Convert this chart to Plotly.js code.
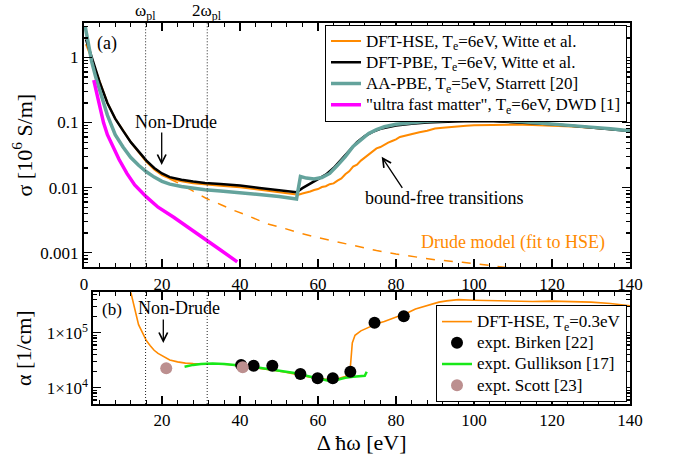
<!DOCTYPE html>
<html>
<head>
<meta charset="utf-8">
<script src="https://cdn.plot.ly/plotly-3.0.1.min.js"></script>
<style>html,body{margin:0;padding:0;background:#fff;}#chart{width:678px;height:457px;}</style>
</head>
<body>
<div id="chart"></div>
<script>
// ---------------- Panel (a): conductivity sigma [10^6 S/m] ----------------
const hse6X = [0.5,1,2,3,4,6,8,10,12,14,16,18,20,22,25,28,31,35,40,45,50,53,55,56,57,58,59,60,61,62,63,64,65,66,67,68,69,70,71,72,73,74,75,76,77,78,79,80,81,82,84,86,88,90,92,95,98,100,103,106,110,115,120,125,130,135,140];
const hse6Y = [1.6,1.35,0.95,0.63,0.42,0.2,0.115,0.074,0.05,0.035,0.025,0.019,0.0155,0.0138,0.0125,0.0117,0.0112,0.0107,0.0101,0.0093,0.0085,0.008,0.0078,0.0081,0.0083,0.0087,0.0092,0.0095,0.0102,0.0105,0.0113,0.0116,0.0128,0.0138,0.016,0.0178,0.021,0.0225,0.026,0.029,0.033,0.036,0.04,0.042,0.046,0.049,0.052,0.055,0.06,0.062,0.068,0.071,0.075,0.081,0.083,0.087,0.089,0.091,0.092,0.093,0.093,0.092,0.09,0.087,0.083,0.079,0.075];

const pbe6X = [0.5,1,2,3,4,6,8,10,12,14,16,18,20,22,25,28,31,35,40,45,50,53,54.5,56,58,60,62,64,66,68,70,72,74,76,78,80,84,88,95,100,105,110,115,120,125,130,135,140];
const pbe6Y = [1.9,1.5,1.0,0.65,0.42,0.2,0.115,0.075,0.05,0.036,0.026,0.02,0.0165,0.0145,0.0132,0.0124,0.0118,0.0114,0.0108,0.0099,0.0091,0.0087,0.0085,0.0098,0.0114,0.0133,0.0158,0.02,0.027,0.037,0.05,0.062,0.072,0.08,0.086,0.09,0.096,0.1,0.104,0.106,0.105,0.102,0.098,0.094,0.089,0.084,0.079,0.074];

const aaX = [0.3,1,2,3,4,6,8,10,12,14,16,18,20,22,25,28,31,35,40,45,50,54.5,55.5,57,59,61,63,65,67,69,71,73,75,77,80,84,88,95,100,105,110,115,120,125,130,135,140];
const aaY = [3.0,1.7,0.85,0.5,0.32,0.13,0.065,0.042,0.029,0.022,0.0175,0.0145,0.0125,0.0113,0.0104,0.0097,0.0093,0.0089,0.0084,0.0078,0.0073,0.0067,0.0148,0.014,0.0136,0.0143,0.0165,0.022,0.03,0.043,0.055,0.068,0.078,0.086,0.094,0.1,0.105,0.109,0.11,0.109,0.106,0.101,0.096,0.09,0.085,0.08,0.075];

const ufmX = [2.5,3,4,5,6,7.5,9,11,13,16,19,23,27,31,35,39.3];
const ufmY = [0.45,0.33,0.17,0.1,0.065,0.042,0.027,0.0165,0.011,0.0072,0.005,0.0035,0.0024,0.0016,0.0011,0.00072];

const drudeX = [22,25,28,31.4,35,38.3,42,46.8,51,55.4,60,64,70,75,80,85,90,97,103,108,112];
const drudeY = [0.0135,0.0112,0.0088,0.0068,0.0055,0.0045,0.0037,0.0028,0.0024,0.002,0.0017,0.0015,0.00125,0.00108,0.00095,0.00085,0.00078,0.00071,0.00064,0.0006,0.00056];

// ---------------- Panel (b): absorption alpha [1/cm] ----------------
const hse03X = [12,12.5,13,13.5,14,15,16,17,18,19,20,21,22,24,26,28,31,34,37,40,43,46,49,52,55,58,61,63,65,67,68.2,68.8,69.5,71,73,75,77,79,81,83,85,87,89,91,93,96,100,105,110,115,120,125,130,135,140];
const hse03Y = [5.5e5,4e5,2.6e5,1.9e5,1.4e5,1e5,7.2e4,5.8e4,4.8e4,4.2e4,3.8e4,3.5e4,3.2e4,2.95e4,2.8e4,2.75e4,2.75e4,2.7e4,2.65e4,2.5e4,2.3e4,2.2e4,2.05e4,1.9e4,1.72e4,1.55e4,1.45e4,1.4e4,1.45e4,1.6e4,1.9e4,6.5e4,9e4,1.08e5,1.25e5,1.45e5,1.6e5,1.8e5,2.0e5,2.3e5,2.7e5,3.0e5,3.3e5,3.6e5,3.8e5,4.0e5,3.9e5,3.8e5,3.75e5,3.7e5,3.75e5,3.7e5,3.6e5,3.4e5,3.1e5];

const birkenX = [40.3,43.5,48.3,55.5,59.9,63.8,68.3,74.5,82];
const birkenY = [2.6e4,2.5e4,2.5e4,1.78e4,1.48e4,1.48e4,1.96e4,1.52e5,2.0e5];

const gullX = [25.8,28,30,33,36,39,42,45,48,51,54,57,60,62,63.5,65,67,69,71,72,72.5];
const gullY = [2.4e4,2.6e4,2.7e4,2.75e4,2.7e4,2.6e4,2.45e4,2.3e4,2.15e4,2e4,1.85e4,1.65e4,1.5e4,1.4e4,1.3e4,1.4e4,1.52e4,1.58e4,1.62e4,1.65e4,1.95e4];

const scottX = [21.1,40.7];
const scottY = [2.25e4,2.35e4];

// Series names, tick labels and reference lines
const namesA = ['DFT-HSE, T<sub>e</sub>=6eV, Witte et al.', 'DFT-PBE, T<sub>e</sub>=6eV, Witte et al.', 'AA-PBE, T<sub>e</sub>=5eV, Starrett [20]', '"ultra fast matter", T<sub>e</sub>=6eV, DWD [1]'];
const namesB = ['DFT-HSE, T<sub>e</sub>=0.3eV', 'expt. Birken [22]', 'expt. Gullikson [17]', 'expt. Scott [23]'];
const xTicks = [0,20,40,60,80,100,120,140];
const sigmaTickVals = [0.001,0.01,0.1,1];
const sigmaTickText = ['0.001','0.01','0.1','1'];
const alphaTickVals = [1e4,1e5];
const alphaTickText = ['1×10<sup>4</sup>','1×10<sup>5</sup>'];
const plasmaLines = [15.8,31.6];
const plasmaLabels = ['ω<sub>pl</sub>','2ω<sub>pl</sub>'];

// ---------------- layout helpers ----------------
const FONT = 'Liberation Serif';
const W = 678, H = 457, ML = 84, MR = 48, MT = 23, MB = 53;
const PW = W - ML - MR, PH = H - MT - MB;
const px = x => (x - ML) / PW;
const py = y => (H - MB - y) / PH;
const big = s => '<span style="font-size:17px">' + s + '</span>';

function minorLog(lo, hi) {
  const v = [];
  for (let e = lo; e <= hi; e++) for (let m = 2; m <= 9; m++) v.push(m * Math.pow(10, e));
  return v;
}

const ORANGE = '#ff8a00';
const TEAL = '#64a39c';

const traces = [
  {x: drudeX, y: drudeY, type: 'scatter', mode: 'lines', line: {color: ORANGE, width: 1.5, dash: 'dash'}, showlegend: false, xaxis: 'x', yaxis: 'y', hoverinfo: 'skip'},
  {x: hse6X, y: hse6Y, type: 'scatter', mode: 'lines', name: big(namesA[0]), line: {color: ORANGE, width: 2}, xaxis: 'x', yaxis: 'y', legend: 'legend'},
  {x: pbe6X, y: pbe6Y, type: 'scatter', mode: 'lines', name: big(namesA[1]), line: {color: '#000000', width: 2.5}, xaxis: 'x', yaxis: 'y', legend: 'legend'},
  {x: aaX, y: aaY, type: 'scatter', mode: 'lines', name: big(namesA[2]), line: {color: TEAL, width: 3.5}, xaxis: 'x', yaxis: 'y', legend: 'legend'},
  {x: ufmX, y: ufmY, type: 'scatter', mode: 'lines', name: big(namesA[3]), line: {color: '#ff00ff', width: 3.5}, xaxis: 'x', yaxis: 'y', legend: 'legend'},

  {x: hse03X, y: hse03Y, type: 'scatter', mode: 'lines', name: big(namesB[0]), line: {color: ORANGE, width: 1.6}, xaxis: 'x2', yaxis: 'y2', legend: 'legend2', legendrank: 1},
  {x: gullX, y: gullY, type: 'scatter', mode: 'lines', name: big(namesB[2]), line: {color: '#18e818', width: 2.5}, xaxis: 'x2', yaxis: 'y2', legend: 'legend2', legendrank: 3},
  {x: birkenX, y: birkenY, type: 'scatter', mode: 'markers', name: big(namesB[1]), marker: {color: '#000000', size: 12}, xaxis: 'x2', yaxis: 'y2', legend: 'legend2', legendrank: 2},
  {x: scottX, y: scottY, type: 'scatter', mode: 'markers', name: big(namesB[3]), marker: {color: '#bc8f8f', size: 12}, xaxis: 'x2', yaxis: 'y2', legend: 'legend2', legendrank: 4}
];

function axisBase() {
  return {
    showline: true, linecolor: '#000', linewidth: 2, mirror: 'allticks',
    ticks: 'inside', ticklen: 8, tickwidth: 1.5, tickcolor: '#000',
    showgrid: false, zeroline: false,
    tickfont: {family: FONT, size: 17, color: '#000'}
  };
}
const minorX = () => ({ticks: 'inside', ticklen: 4, tickwidth: 1.2, tickcolor: '#000', dtick: 4, tick0: 0, showgrid: false});
const minorY = (lo, hi) => ({ticks: 'inside', ticklen: 4, tickwidth: 1.2, tickcolor: '#000', tickmode: 'array', tickvals: minorLog(lo, hi), showgrid: false});

const top0 = py(267.3), bot1 = py(292.3);

const layout = {
  width: W, height: H,
  margin: {l: ML, r: MR, t: MT, b: MB},
  paper_bgcolor: '#fff', plot_bgcolor: '#fff',
  font: {family: FONT, color: '#000'},
  xaxis: Object.assign(axisBase(), {
    domain: [0, 1], range: [0, 140], anchor: 'y',
    tickmode: 'array', tickvals: xTicks, minor: minorX()
  }),
  yaxis: Object.assign(axisBase(), {
    type: 'log', domain: [top0, 1], range: [-3.225, 0.53], anchor: 'x',
    tickmode: 'array', tickvals: sigmaTickVals, ticktext: sigmaTickText, minor: minorY(-4, 0),
    title: {text: 'σ [10<sup>6</sup> S/m]', font: {family: FONT, size: 22, color: '#000'}, standoff: 2}
  }),
  xaxis2: Object.assign(axisBase(), {
    domain: [px(93.3), 1], range: [2.4, 140], anchor: 'y2',
    tickmode: 'array', tickvals: xTicks, minor: minorX(),
    title: {text: 'Δ ħω [eV]', font: {family: FONT, size: 22, color: '#000'}, standoff: 0}
  }),
  yaxis2: Object.assign(axisBase(), {
    type: 'log', domain: [0, bot1], range: [3.704, 5.735], anchor: 'x2',
    tickmode: 'array', tickvals: alphaTickVals, ticktext: alphaTickText, minor: minorY(3, 5),
    title: {text: 'α [1/cm]', font: {family: FONT, size: 22, color: '#000'}, standoff: 9}
  }),
  legend: {
    x: px(627), xanchor: 'right', y: py(24.5), yanchor: 'top',
    bgcolor: '#fff', bordercolor: '#000', borderwidth: 1,
    font: {family: FONT, size: 14, color: '#000'},
    tracegroupgap: 0, itemwidth: 30
  },
  legend2: {
    x: px(627), xanchor: 'right', y: py(305), yanchor: 'top',
    bgcolor: '#fff', bordercolor: '#000', borderwidth: 1,
    font: {family: FONT, size: 14, color: '#000'},
    tracegroupgap: 0, itemwidth: 30, traceorder: 'normal'
  },
  shapes: [],
  annotations: []
};

plasmaLines.forEach((xv, i) => {
  layout.shapes.push({type: 'line', xref: 'x', yref: 'y domain', x0: xv, x1: xv, y0: 0, y1: 1, line: {color: '#222', width: 1, dash: '1px,2px'}});
  layout.shapes.push({type: 'line', xref: 'x2', yref: 'y2 domain', x0: xv, x1: xv, y0: 0, y1: 1, line: {color: '#222', width: 1, dash: '1px,2px'}});
  layout.annotations.push({text: plasmaLabels[i], xref: 'x', x: xv, yref: 'paper', y: py(12), xanchor: 'center', yanchor: 'middle', showarrow: false, font: {family: FONT, size: 17, color: '#000'}});
});

const txt = (text, x, y, size, color) => ({text, xref: 'paper', yref: 'paper', x: px(x), y: py(y), xanchor: 'center', yanchor: 'middle', showarrow: false, font: {family: FONT, size: size, color: color || '#000'}});
const arrow = (hx, hy, tx, ty) => ({text: '', xref: 'paper', yref: 'paper', x: px(hx), y: py(hy), ax: tx - hx, ay: ty - hy, showarrow: true, arrowhead: 5, arrowsize: 1.3, arrowwidth: 1.3, arrowcolor: '#000'});

layout.annotations.push(
  txt('(a)', 107, 43, 18),
  txt('Non-Drude', 176, 122, 18),
  arrow(161.7, 165, 161.7, 131),
  txt('bound-free transitions', 444, 198, 18),
  arrow(381.7, 156.7, 403.3, 189.3),
  txt('Drude model (fit to HSE)', 513, 243, 18, ORANGE),
  txt('(b)', 112, 309, 17),
  txt('Non-Drude', 179, 308, 18),
  arrow(163.3, 343, 163.3, 318)
);

Plotly.newPlot('chart', traces, layout, {staticPlot: true, displayModeBar: false});
</script>
</body>
</html>
